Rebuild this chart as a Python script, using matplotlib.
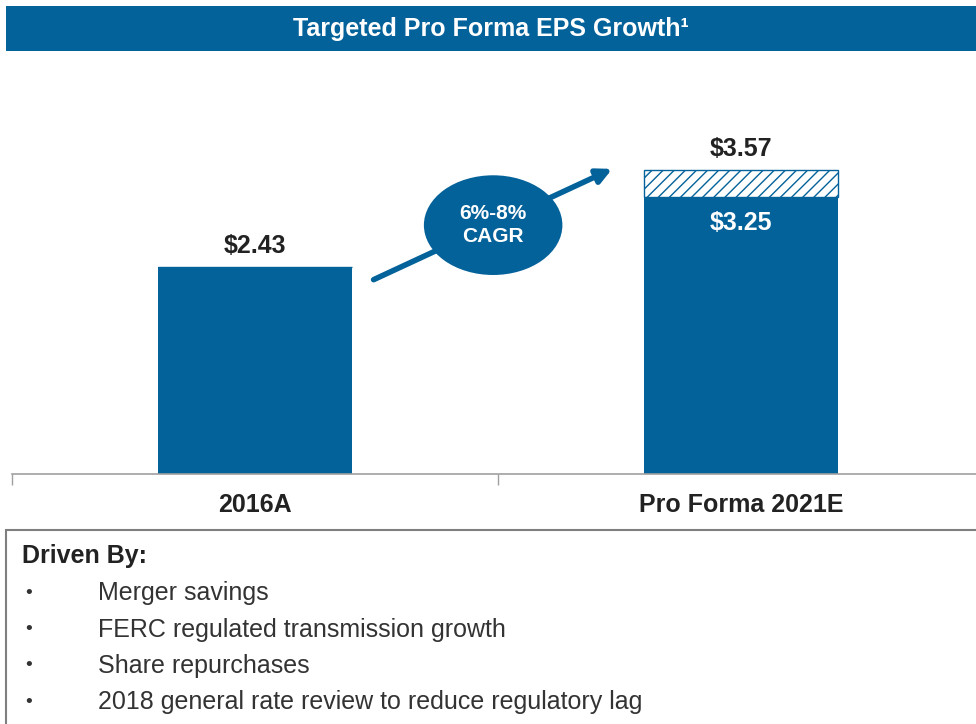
import matplotlib.pyplot as plt
from matplotlib.patches import Rectangle, Ellipse

plt.rcParams['font.family'] = ['Liberation Sans', 'DejaVu Sans']
plt.rcParams['hatch.linewidth'] = 1.0

# data
categories = ['2016A', 'Pro Forma 2021E']
base_eps = [2.43, 3.25]
upside_eps = [0.0, 0.32]
total_labels = ['$2.43', '$3.57']
inner_labels = ['', '$3.25']
cagr_text = '6%-8%\nCAGR'
title = 'Targeted Pro Forma EPS Growth\u00b9'
drivers = ['Merger savings',
           'FERC regulated transmission growth',
           'Share repurchases',
           '2018 general rate review to reduce regulatory lag']

blue = '#04629A'
W, H = 976, 724

def fx(x):
    return x / W

def fy(y):
    return 1 - y / H

fig = plt.figure(figsize=(9.76, 7.24), dpi=100)

# title bar
fig.patches.append(Rectangle((fx(6), fy(51)), fx(970), 45 / H, transform=fig.transFigure,
                             facecolor=blue, edgecolor='none', zorder=0))
fig.text(fx(491), fy(29), title, color='white', fontsize=18, fontweight='bold',
         ha='center', va='center')

# main chart
ax = fig.add_axes([fx(12), fy(474), 972 / W, 375 / H])
x = [0, 1]
ax.bar(x, base_eps, width=0.4, color=blue, zorder=2)
ax.bar(x, upside_eps, width=0.4, bottom=base_eps, facecolor='white', edgecolor=blue,
       hatch='///', linewidth=1.0, zorder=2)

for i in range(len(x)):
    top = base_eps[i] + upside_eps[i]
    ax.text(x[i], top + 0.1, total_labels[i], ha='center', va='bottom',
            fontsize=18, fontweight='bold', color='#222222')
    if inner_labels[i]:
        ax.text(x[i], base_eps[i] - 0.3, inner_labels[i], ha='center', va='center',
                fontsize=18, fontweight='bold', color='white')

ax.set_xlim(-0.5, 1.5)
ax.set_ylim(0, 4.4)
ax.set_xticks(x)
ax.set_xticklabels(categories, fontsize=18, fontweight='bold', color='#222222')
ax.tick_params(axis='x', which='major', length=0, pad=14)
ax.set_xticks([-0.5, 0.5, 1.5], minor=True)
ax.tick_params(axis='x', which='minor', length=8, color='#A0A0A0', width=1)
ax.set_yticks([])
for s in ['top', 'right', 'left']:
    ax.spines[s].set_visible(False)
ax.spines['bottom'].set_color('#A0A0A0')
ax.spines['bottom'].set_linewidth(1.2)

# CAGR arrow and bubble
ax.annotate('', xy=(0.735, 3.58), xytext=(0.244, 2.28),
            arrowprops=dict(arrowstyle='-|>', color=blue, lw=4,
                            mutation_scale=22, shrinkA=0, shrinkB=0), zorder=3)
ax.add_patch(Ellipse((0.49, 2.92), 0.285, 1.17, facecolor=blue, edgecolor='none', zorder=4))
ax.text(0.49, 2.92, cagr_text, ha='center', va='center', color='white',
        fontsize=15, fontweight='bold', linespacing=1.3, zorder=5)

# drivers box
fig.patches.append(Rectangle((fx(6), fy(730)), fx(975), 200 / H, transform=fig.transFigure,
                             facecolor='white', edgecolor='#7F7F7F', linewidth=1.5))
fig.text(fx(22), fy(556), 'Driven By:', fontsize=18, fontweight='bold',
         color='#222222', va='center')
for j, d in enumerate(drivers):
    yy = 593 + j * 36.5
    fig.text(fx(25), fy(yy), '\u2022', fontsize=14, color='#333333', va='center')
    fig.text(fx(98), fy(yy), d, fontsize=18, color='#333333', va='center')

fig.savefig('out.png', dpi=100, facecolor='white')
